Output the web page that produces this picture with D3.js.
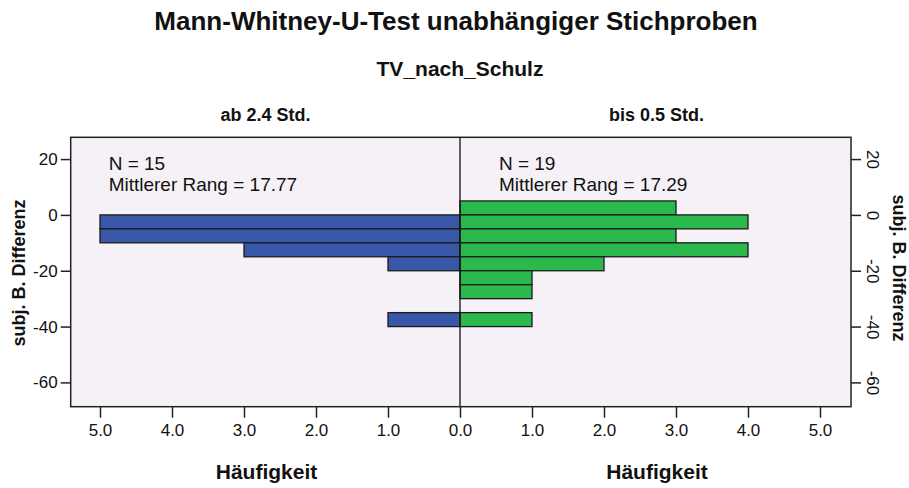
<!DOCTYPE html>
<html>
<head>
<meta charset="utf-8">
<script src="https://cdn.jsdelivr.net/npm/d3@7/dist/d3.min.js"></script>
<style>
  body { margin: 0; background: #fff; }
  svg { display: block; font-family: "Liberation Sans", Arial, sans-serif; }
  .tick text { fill: #111; }
</style>
</head>
<body>
<svg id="chart" width="909" height="488"></svg>
<script>
// bins of 5 units, given by their upper edge
const binTop = [5, 0, -5, -10, -15, -20, -25, -30, -35];
const countsLeft = [0, 5, 5, 3, 1, 0, 0, 0, 1];   // ab 2.4 Std.
const countsRight = [3, 4, 3, 4, 2, 1, 1, 0, 1];  // bis 0.5 Std.
const binWidth = 5;

const groupNames = ['ab 2.4 Std.', 'bis 0.5 Std.'];
const groupN = [15, 19];
const groupRank = ['17.77', '17.29'];
const yTicks = [20, 0, -20, -40, -60];
const xTicks = [0, 1, 2, 3, 4, 5];

const plot = {left: 70.7, right: 851, top: 137.3, bottom: 406.7};
const mid = 460;

const svg = d3.select('#chart');

const y = d3.scaleLinear().domain([-68.7, 27.8]).range([plot.bottom, plot.top]);
const xL = d3.scaleLinear().domain([0, (mid - plot.left) / 72]).range([mid, plot.left]);
const xR = d3.scaleLinear().domain([0, (plot.right - mid) / 72]).range([mid, plot.right]);

// plot background
svg.append('rect')
  .attr('x', plot.left).attr('y', plot.top)
  .attr('width', plot.right - plot.left).attr('height', plot.bottom - plot.top)
  .attr('fill', '#f5f1f6');

const leftData = binTop.map((t, i) => ({top: t, n: countsLeft[i]})).filter(d => d.n > 0);
const rightData = binTop.map((t, i) => ({top: t, n: countsRight[i]})).filter(d => d.n > 0);

svg.append('g').selectAll('rect')
  .data(leftData)
  .enter().append('rect')
  .attr('x', d => xL(d.n))
  .attr('y', d => y(d.top))
  .attr('width', d => xL(0) - xL(d.n))
  .attr('height', d => y(d.top - binWidth) - y(d.top))
  .attr('fill', '#3957a9')
  .attr('stroke', '#1b1b1b')
  .attr('stroke-width', 1.3);

svg.append('g').selectAll('rect')
  .data(rightData)
  .enter().append('rect')
  .attr('x', xR(0))
  .attr('y', d => y(d.top))
  .attr('width', d => xR(d.n) - xR(0))
  .attr('height', d => y(d.top - binWidth) - y(d.top))
  .attr('fill', '#2bb84d')
  .attr('stroke', '#1b1b1b')
  .attr('stroke-width', 1.3);

// frame + centre line
svg.append('rect')
  .attr('x', plot.left).attr('y', plot.top)
  .attr('width', plot.right - plot.left).attr('height', plot.bottom - plot.top)
  .attr('fill', 'none').attr('stroke', '#222').attr('stroke-width', 1.5);
svg.append('line')
  .attr('x1', mid).attr('x2', mid).attr('y1', plot.top).attr('y2', plot.bottom)
  .attr('stroke', '#111').attr('stroke-width', 1.3);

// axes
const fmt = d3.format('.1f');
const plain = d => String(d);   // keep a plain hyphen for negatives
const styleAxis = g => {
  g.select('.domain').remove();
  g.selectAll('.tick line').attr('stroke', '#222').attr('stroke-width', 1.5);
  g.selectAll('.tick text').attr('font-size', 17);
};

svg.append('g')
  .attr('transform', `translate(0,${plot.bottom})`)
  .call(d3.axisBottom(xL).tickValues(xTicks.slice(1)).tickFormat(fmt).tickSize(11).tickPadding(6))
  .call(styleAxis);
svg.append('g')
  .attr('transform', `translate(0,${plot.bottom})`)
  .call(d3.axisBottom(xR).tickValues(xTicks).tickFormat(fmt).tickSize(11).tickPadding(6))
  .call(styleAxis);

svg.append('g')
  .attr('transform', `translate(${plot.left},0)`)
  .call(d3.axisLeft(y).tickValues(yTicks).tickFormat(plain).tickSize(10).tickPadding(3))
  .call(styleAxis);

const rAxis = svg.append('g')
  .attr('transform', `translate(${plot.right},0)`)
  .call(d3.axisRight(y).tickValues(yTicks).tickFormat(plain).tickSize(10))
  .call(styleAxis);
rAxis.selectAll('.tick text')
  .attr('x', 0).attr('dy', 0)
  .attr('text-anchor', 'middle')
  .attr('transform', 'translate(16,0) rotate(90)');

// in-plot annotations
const annoX = [xL(4.88), xR(0.54)];
groupNames.forEach((g, i) => {
  const t = svg.append('text')
    .attr('x', annoX[i]).attr('y', 169.6)
    .attr('font-size', 19).attr('fill', '#111');
  t.append('tspan').attr('x', annoX[i]).text(`N = ${groupN[i]}`);
  t.append('tspan').attr('x', annoX[i]).attr('dy', 21.4).text(`Mittlerer Rang = ${groupRank[i]}`);
});

// titles
const label = (txt, x, yy, size, extra) => {
  const t = svg.append('text')
    .attr('x', x).attr('y', yy)
    .attr('text-anchor', 'middle')
    .attr('font-size', size)
    .attr('font-weight', 'bold')
    .attr('fill', '#111')
    .text(txt);
  if (extra) extra(t);
  return t;
};

label('Mann-Whitney-U-Test unabhängiger Stichproben', 456, 30, 26);
label('TV_nach_Schulz', 460, 76, 21);
label(groupNames[0], 265.5, 121, 18);
label(groupNames[1], 656.5, 121, 18);
label('Häufigkeit', 266.5, 479, 21);
label('Häufigkeit', 657, 479, 21);

label('subj. B. Differenz', 0, 0, 18, t => t.attr('transform', `translate(25,273) rotate(-90)`));
label('subj. B. Differenz', 0, 0, 18, t => t.attr('transform', `translate(893,268) rotate(90)`));
</script>
</body>
</html>
